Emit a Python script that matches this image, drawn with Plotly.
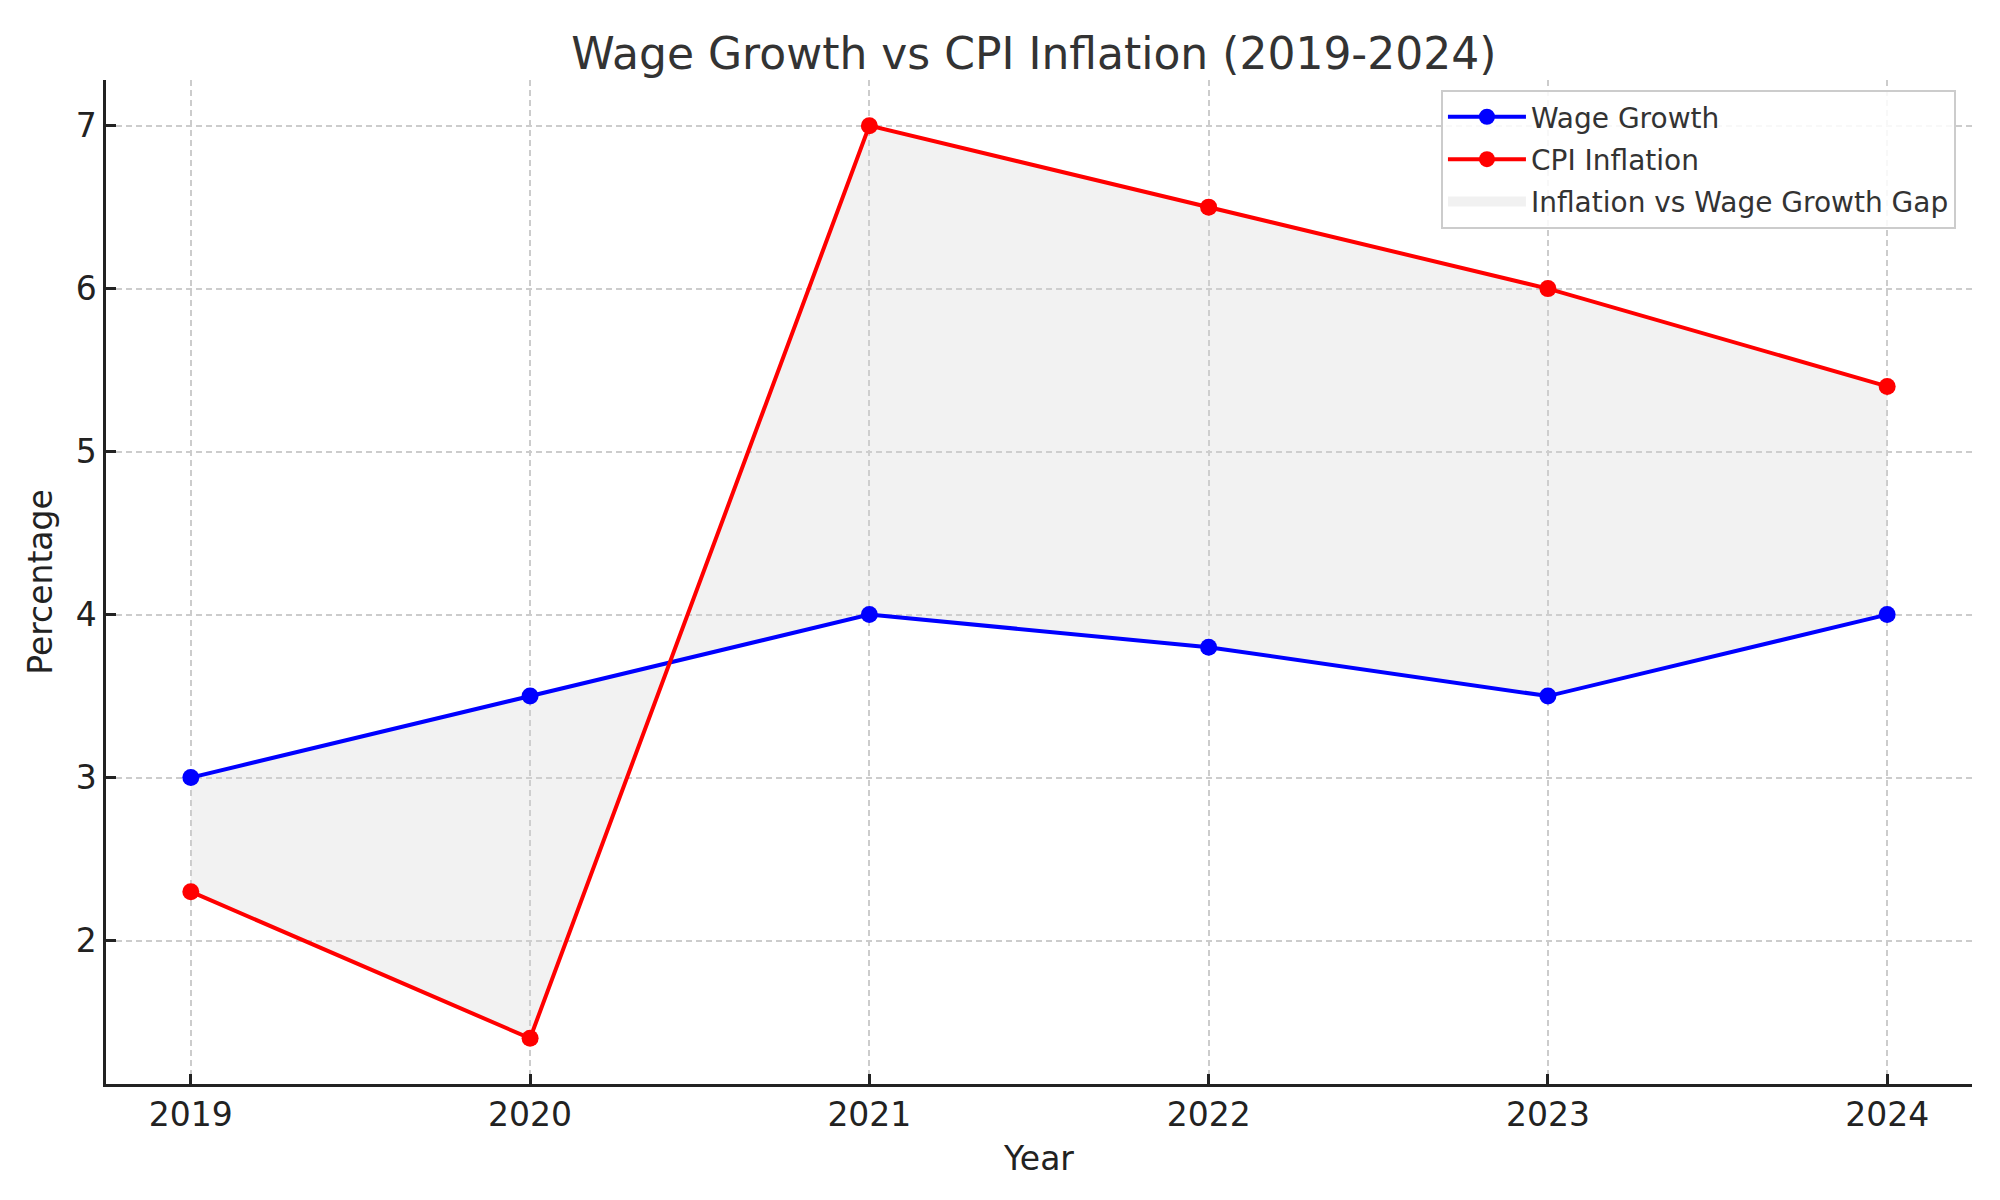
import plotly.graph_objects as go

years = [2019, 2020, 2021, 2022, 2023, 2024]
wage_growth = [3.0, 3.5, 4.0, 3.8, 3.5, 4.0]
cpi_inflation = [2.3, 1.4, 7.0, 6.5, 6.0, 5.4]
y_ticks = [2, 3, 4, 5, 6, 7]

FONT = "DejaVu Sans"
GAP_FILL = "rgba(211,211,211,0.3)"

fig = go.Figure()

# fill between wage growth and CPI
fig.add_trace(go.Scatter(
    x=years, y=wage_growth, mode="lines", line=dict(width=0, color="rgba(0,0,0,0)"),
    showlegend=False, hoverinfo="skip"))
fig.add_trace(go.Scatter(
    x=years, y=cpi_inflation, mode="lines",
    line=dict(width=0, color="rgba(0,0,0,0)"),
    fill="tonexty", fillcolor=GAP_FILL,
    showlegend=False, hoverinfo="skip"))

fig.add_trace(go.Scatter(
    x=years, y=wage_growth, mode="lines+markers", name="Wage Growth",
    line=dict(color="#0000ff", width=4), marker=dict(color="#0000ff", size=17),
    legendgroup="a", legendrank=1))
fig.add_trace(go.Scatter(
    x=years, y=cpi_inflation, mode="lines+markers", name="CPI Inflation",
    line=dict(color="#ff0000", width=4), marker=dict(color="#ff0000", size=17),
    legendgroup="b", legendrank=2))
# legend entry for the gap area (thick line swatch = filled rectangle)
fig.add_trace(go.Scatter(
    x=[None], y=[None], mode="lines",
    line=dict(width=20, color="rgba(214,214,214,0.35)"),
    name="Inflation vs Wage Growth Gap", legendgroup="c", legendrank=3,
    hoverinfo="skip"))

axis_common = dict(
    showline=True, linecolor="#222222", linewidth=2.5,
    ticks="inside", ticklen=10, tickwidth=2.5, tickcolor="#222222",
    showgrid=True, gridcolor="#cccccc", gridwidth=1.6, griddash="6px,4px",
    zeroline=False, mirror=False,
    tickfont=dict(family=FONT, size=33, color="#222222"),
)

fig.update_xaxes(
    **axis_common, range=[2018.75, 2024.25], tickvals=years,
    ticktext=[str(y) for y in years],
    title=dict(text="Year", font=dict(family=FONT, size=33, color="#222222"), standoff=14),
)
fig.update_yaxes(
    **axis_common, range=[1.12, 7.28], tickvals=y_ticks,
    ticktext=[str(v) for v in y_ticks],
    title=dict(text="Percentage", font=dict(family=FONT, size=33, color="#222222"), standoff=14),
)

fig.update_layout(
    width=1992, height=1192,
    margin=dict(l=98, r=28, t=72, b=116),
    paper_bgcolor="white", plot_bgcolor="white",
    title=dict(text="Wage Growth vs CPI Inflation (2019-2024)",
               font=dict(family=FONT, size=44, color="#333333"),
               x=0.515, xanchor="center", y=0.962, yanchor="middle"),
    legend=dict(x=0.9914, xanchor="right", y=0.990, yanchor="top",
                traceorder="grouped",
                bgcolor="rgba(255,255,255,0.85)", bordercolor="#cccccc", borderwidth=2,
                font=dict(family=FONT, size=28, color="#333333"),
                tracegroupgap=3, itemwidth=78),
    showlegend=True,
)

fig.write_html("out.html")
